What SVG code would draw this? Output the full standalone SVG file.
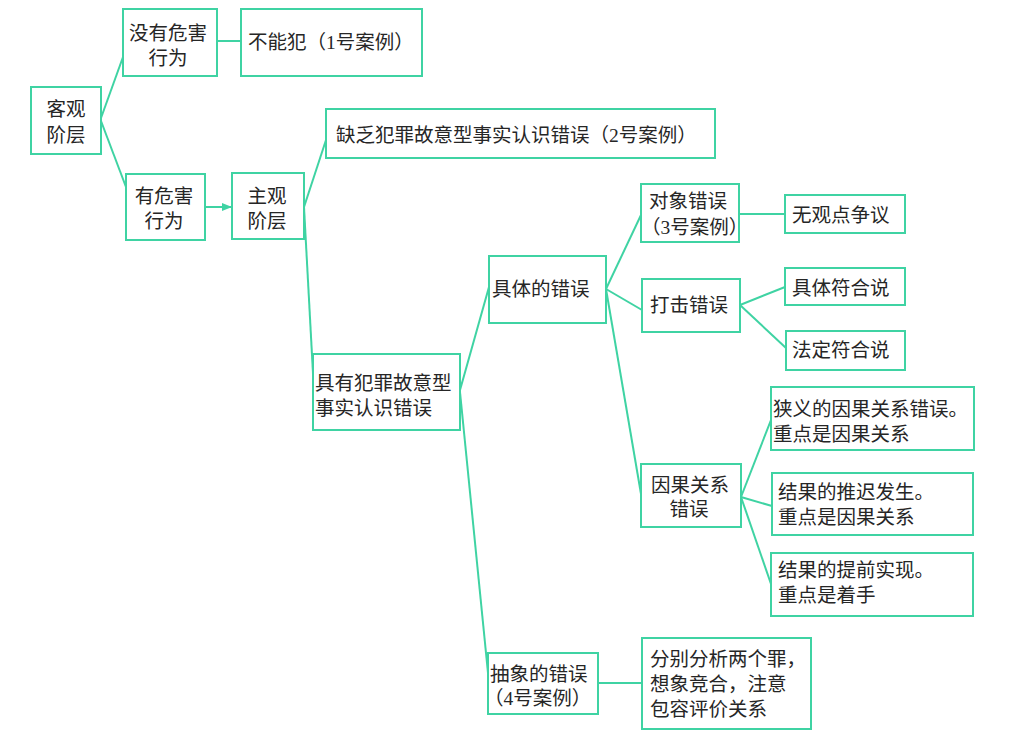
<svg xmlns="http://www.w3.org/2000/svg" width="1011" height="744" viewBox="0 0 1011 744">
<defs>
<style>
.n{fill:#ffffff;stroke:#3fd3a3;stroke-width:2}
.t{font-family:"Liberation Serif","Noto Sans CJK SC",serif;font-size:19.5px;fill:#262626}
.c line,.c polyline{stroke:#3fd3a3;stroke-width:2;fill:none}
</style>
<marker id="ah" markerWidth="10" markerHeight="10" refX="9" refY="5" orient="auto" markerUnits="userSpaceOnUse">
<path d="M0,1 L10,5 L0,9 Z" fill="#3fd3a3"/>
</marker>
</defs>
<rect width="1011" height="744" fill="#ffffff"/>
<g class="c" id="connectors">
<line x1="101" y1="118" x2="123" y2="57"/>
<line x1="101" y1="121" x2="126" y2="187"/>
<line x1="217" y1="41" x2="241" y2="41"/>
<line x1="205" y1="207" x2="231" y2="207" marker-end="url(#ah)"/>
<line x1="304" y1="207" x2="326" y2="140"/>
<line x1="304" y1="207" x2="314" y2="392"/>
<line x1="460" y1="390" x2="489" y2="287"/>
<line x1="460" y1="392" x2="489" y2="683"/>
<line x1="606" y1="289" x2="641" y2="215"/>
<line x1="606" y1="289" x2="642" y2="310"/>
<line x1="606" y1="289" x2="641" y2="494"/>
<line x1="739" y1="214" x2="785" y2="214"/>
<line x1="740" y1="305" x2="785" y2="287"/>
<line x1="740" y1="305" x2="786" y2="348"/>
<line x1="741" y1="497" x2="771" y2="420"/>
<line x1="741" y1="497" x2="772" y2="506"/>
<line x1="741" y1="497" x2="771" y2="584"/>
<line x1="598" y1="683" x2="642" y2="683"/>
</g>
<g id="n1"><rect class="n" x="31" y="87" width="70" height="67"/><text class="t" x="66" y="116" text-anchor="middle">客观</text><text class="t" x="66" y="142" text-anchor="middle">阶层</text></g>
<g id="n2"><rect class="n" x="123" y="9" width="94" height="67"/><text class="t" x="168" y="40" text-anchor="middle">没有危害</text><text class="t" x="168" y="65" text-anchor="middle">行为</text></g>
<g id="n3"><rect class="n" x="241" y="9" width="181" height="67"/><text class="t" x="248" y="49">不能犯（1号案例）</text></g>
<g id="n4"><rect class="n" x="126" y="174" width="79" height="66"/><text class="t" x="164" y="203" text-anchor="middle">有危害</text><text class="t" x="164" y="228" text-anchor="middle">行为</text></g>
<g id="n5"><rect class="n" x="232" y="173" width="72" height="66"/><text class="t" x="267" y="203" text-anchor="middle">主观</text><text class="t" x="267" y="228" text-anchor="middle">阶层</text></g>
<g id="n6"><rect class="n" x="326" y="109" width="389" height="49"/><text class="t" x="336" y="142">缺乏犯罪故意型事实认识错误（2号案例）</text></g>
<g id="n7"><rect class="n" x="313" y="354" width="147" height="76"/><text class="t" x="315" y="390">具有犯罪故意型</text><text class="t" x="315" y="415">事实认识错误</text></g>
<g id="n8"><rect class="n" x="489" y="256" width="117" height="67"/><text class="t" x="492" y="296">具体的错误</text></g>
<g id="n9"><rect class="n" x="641" y="184" width="98" height="58"/><text class="t" x="649" y="208">对象错误</text><text class="t" x="641" y="234">（3号案例）</text></g>
<g id="n10"><rect class="n" x="642" y="279" width="98" height="53"/><text class="t" x="650" y="312">打击错误</text></g>
<g id="n11"><rect class="n" x="785" y="195" width="120" height="38"/><text class="t" x="792" y="222">无观点争议</text></g>
<g id="n12"><rect class="n" x="785" y="268" width="120" height="37"/><text class="t" x="792" y="295">具体符合说</text></g>
<g id="n13"><rect class="n" x="786" y="331" width="119" height="39"/><text class="t" x="792" y="357">法定符合说</text></g>
<g id="n14"><rect class="n" x="641" y="464" width="100" height="63"/><text class="t" x="690" y="492" text-anchor="middle">因果关系</text><text class="t" x="689" y="516" text-anchor="middle">错误</text></g>
<g id="n15"><rect class="n" x="771" y="387" width="203" height="63"/><text class="t" x="773" y="416">狭义的因果关系错误。</text><text class="t" x="773" y="441">重点是因果关系</text></g>
<g id="n16"><rect class="n" x="772" y="473" width="201" height="62"/><text class="t" x="778" y="499">结果的推迟发生。</text><text class="t" x="778" y="524">重点是因果关系</text></g>
<g id="n17"><rect class="n" x="771" y="553" width="202" height="63"/><text class="t" x="778" y="577">结果的提前实现。</text><text class="t" x="778" y="602">重点是着手</text></g>
<g id="n18"><rect class="n" x="488" y="653" width="110" height="61"/><text class="t" x="490" y="681">抽象的错误</text><text class="t" x="484" y="705">（4号案例）</text></g>
<g id="n19"><rect class="n" x="642" y="638" width="169" height="91"/><text class="t" x="650" y="666">分别分析两个罪，</text><text class="t" x="650" y="691">想象竞合，注意</text><text class="t" x="650" y="716">包容评价关系</text></g>
</svg>
